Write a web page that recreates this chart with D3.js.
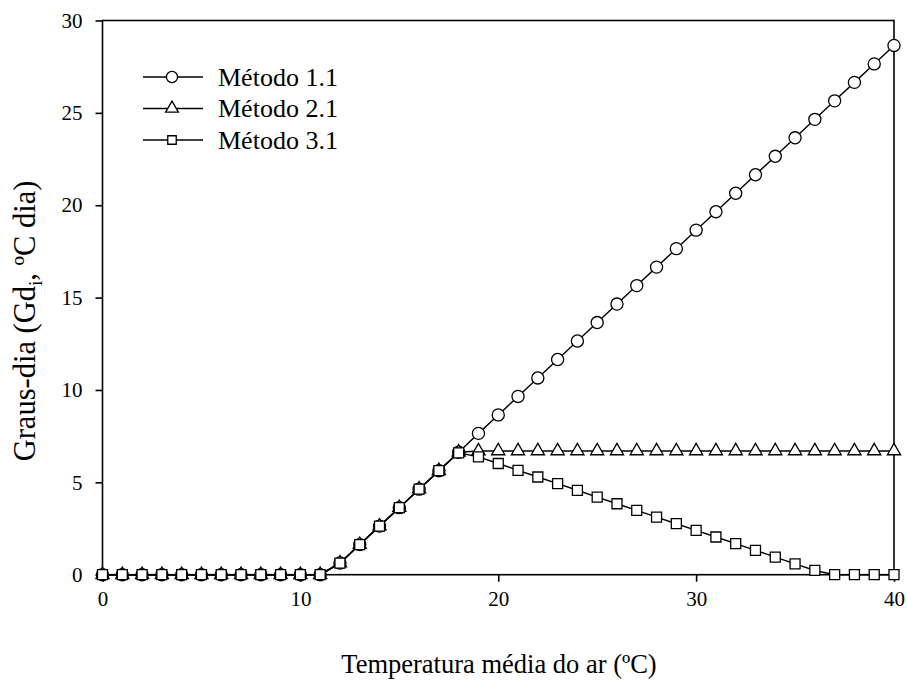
<!DOCTYPE html>
<html>
<head>
<meta charset="UTF-8">
<style>
    body { margin: 0; background: #fff; }
    svg text { font-family: "Liberation Serif", "Times New Roman", serif; fill: #000; }
    .axis path, .axis line { stroke: #000; stroke-width: 1.6px; }
    .axis text { font-size: 21px; }
</style>
</head>
<body>
<svg width="907" height="686"></svg>
<script src="https://d3js.org/d3.v7.min.js"></script>
<script>

    var temp = [0, 1, 2, 3, 4, 5, 6, 7, 8, 9, 10, 11, 12, 13, 14, 15, 16, 17, 18, 19, 20,
                21, 22, 23, 24, 25, 26, 27, 28, 29, 30, 31, 32, 33, 34, 35, 36, 37, 38, 39, 40];

    var metodo11 = [0, 0, 0, 0, 0, 0, 0, 0, 0, 0, 0, 0, 0.63, 1.63, 2.63, 3.63, 4.63, 5.63, 6.63, 7.65, 8.65,
                    9.65, 10.65, 11.65, 12.65, 13.65, 14.65, 15.65, 16.65, 17.65, 18.65, 19.65, 20.65,
                    21.65, 22.65, 23.65, 24.65, 25.65, 26.65, 27.65, 28.65];

    var metodo21 = [0, 0, 0, 0, 0, 0, 0, 0, 0, 0, 0, 0, 0.63, 1.63, 2.63, 3.63, 4.63, 5.63, 6.63, 6.7, 6.7,
                    6.7, 6.7, 6.7, 6.7, 6.7, 6.7, 6.7, 6.7, 6.7, 6.7, 6.7, 6.7,
                    6.7, 6.7, 6.7, 6.7, 6.7, 6.7, 6.7, 6.7];

    var metodo31 = [0, 0, 0, 0, 0, 0, 0, 0, 0, 0, 0, 0, 0.63, 1.63, 2.63, 3.63, 4.63, 5.63, 6.6, 6.38, 6.02,
                    5.65, 5.29, 4.93, 4.57, 4.2, 3.84, 3.48, 3.12, 2.76, 2.4, 2.04, 1.68,
                    1.32, 0.95, 0.59, 0.23, 0, 0, 0, 0];

    var xTicks = [0, 10, 20, 30, 40];
    var yTicks = [0, 5, 10, 15, 20, 25, 30];

    var series = [
        {name: "Método 1.1", values: metodo11, symbol: "circle"},
        {name: "Método 2.1", values: metodo21, symbol: "triangle"},
        {name: "Método 3.1", values: metodo31, symbol: "square"}
    ];

    var svg = d3.select("svg"),
        plotLeft = 102.5, plotRight = 894, plotTop = 20.5, plotBottom = 574.7;

    var x = d3.scaleLinear().domain([0, 40]).range([plotLeft, plotRight]);
    var y = d3.scaleLinear().domain([0, 30]).range([plotBottom, plotTop]);

    // frame
    svg.append("rect")
        .attr("x", plotLeft).attr("y", plotTop)
        .attr("width", plotRight - plotLeft).attr("height", plotBottom - plotTop)
        .attr("fill", "none").attr("stroke", "#000").attr("stroke-width", 1.6);

    svg.append("g")
        .attr("class", "axis")
        .attr("transform", "translate(0," + plotBottom + ")")
        .call(d3.axisBottom(x).tickValues(xTicks).tickSize(7).tickSizeOuter(0).tickPadding(9));

    svg.append("g")
        .attr("class", "axis")
        .attr("transform", "translate(" + plotLeft + ",0)")
        .call(d3.axisLeft(y).tickValues(yTicks).tickSize(7).tickSizeOuter(0).tickPadding(13));

    svg.selectAll(".axis .domain").remove();

    function symbolPath(type, s) {
        if (type === "circle") return d3.symbol().type(d3.symbolCircle).size(s * 115)();
        if (type === "triangle") return d3.symbol().type(d3.symbolTriangle).size(s * 75)();
        return d3.symbol().type(d3.symbolSquare).size(s * 100)();
    }

    var line = d3.line()
        .x(function (d, i) { return x(temp[i]); })
        .y(function (d) { return y(d); });

    series.forEach(function (s) {
        var g = svg.append("g");
        g.append("path")
            .attr("d", line(s.values))
            .attr("fill", "none")
            .attr("stroke", "#000")
            .attr("stroke-width", 1.4);
        g.selectAll("path.mark")
            .data(s.values)
            .enter().append("path")
            .attr("class", "mark")
            .attr("transform", function (d, i) {
                return "translate(" + x(temp[i]) + "," + y(d) + ")";
            })
            .attr("d", symbolPath(s.symbol, 1))
            .attr("fill", "#fff")
            .attr("stroke", "#000")
            .attr("stroke-width", 1.3);
    });

    // legend
    var legend = svg.append("g");
    var legendScale = {circle: 0.85, triangle: 0.95, square: 0.72};
    series.forEach(function (s, i) {
        var ly = 77 + i * 31.5;
        legend.append("line")
            .attr("x1", 143).attr("x2", 203)
            .attr("y1", ly).attr("y2", ly)
            .attr("stroke", "#000").attr("stroke-width", 1.4);
        legend.append("path")
            .attr("transform", "translate(172," + ly + ")")
            .attr("d", symbolPath(s.symbol, legendScale[s.symbol]))
            .attr("fill", "#fff")
            .attr("stroke", "#000")
            .attr("stroke-width", 1.3);
        legend.append("text")
            .attr("x", 218).attr("y", ly + 8.5)
            .style("font-size", "26px")
            .text(s.name);
    });

    // axis titles
    svg.append("text")
        .attr("x", 499).attr("y", 673)
        .attr("text-anchor", "middle")
        .style("font-size", "26.5px")
        .text("Temperatura média do ar (ºC)");

    var yl = svg.append("text")
        .attr("transform", "translate(35,321) rotate(-90)")
        .attr("text-anchor", "middle")
        .style("font-size", "30.5px");
    yl.append("tspan").text("Graus-dia (Gd");
    yl.append("tspan").attr("dy", 7).style("font-size", "19px").text("i");
    yl.append("tspan").attr("dy", -7).text(", ºC dia)");

</script>
</body>
</html>
